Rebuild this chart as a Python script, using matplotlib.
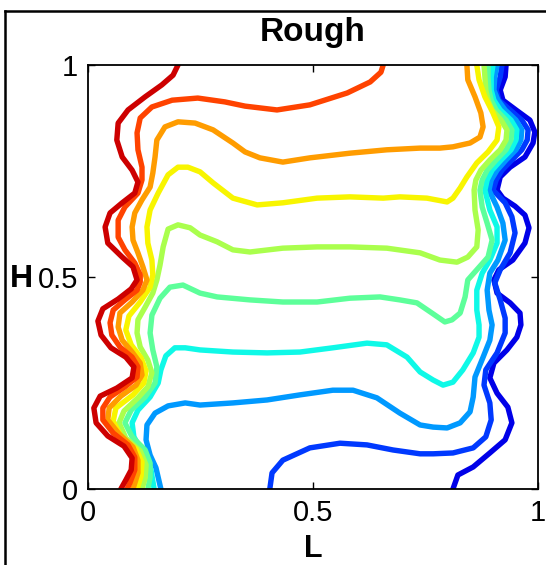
import matplotlib
matplotlib.use('Agg')
import matplotlib.pyplot as plt
import numpy as np
from matplotlib.lines import Line2D

# isotherm lines, coldest (right wall) to hottest (left wall)
dkblue_x = [0.929, 0.927, 0.916, 0.922, 0.951, 0.982, 0.993, 0.989, 0.971, 0.938, 0.916, 0.909,
            0.922, 0.949, 0.971, 0.980, 0.971, 0.944, 0.913, 0.902, 0.909, 0.938, 0.960, 0.962,
            0.953, 0.931, 0.902, 0.893, 0.909, 0.933, 0.942, 0.927, 0.893, 0.856, 0.822, 0.811]
dkblue_y = [1.0, 0.972, 0.941, 0.917, 0.894, 0.870, 0.842, 0.816, 0.783, 0.759, 0.736, 0.705,
            0.686, 0.667, 0.646, 0.616, 0.580, 0.540, 0.517, 0.493, 0.462, 0.439, 0.415, 0.387,
            0.358, 0.328, 0.297, 0.262, 0.226, 0.193, 0.156, 0.116, 0.085, 0.052, 0.033, 0.0]

blue_x = [0.920, 0.916, 0.907, 0.913, 0.938, 0.964, 0.978, 0.976, 0.964, 0.942, 0.920, 0.907,
          0.900, 0.927, 0.942, 0.949, 0.938, 0.916, 0.904, 0.916, 0.927, 0.927, 0.909, 0.884,
          0.880, 0.893, 0.896, 0.884, 0.856, 0.811, 0.767, 0.738, 0.678, 0.620, 0.560, 0.493,
          0.433, 0.409, 0.404]
blue_y = [1.0, 0.972, 0.941, 0.917, 0.894, 0.870, 0.847, 0.823, 0.800, 0.776, 0.752, 0.729,
          0.705, 0.675, 0.642, 0.604, 0.557, 0.517, 0.486, 0.446, 0.403, 0.368, 0.321, 0.281,
          0.245, 0.203, 0.163, 0.123, 0.097, 0.085, 0.083, 0.083, 0.092, 0.104, 0.108, 0.097,
          0.068, 0.038, 0.0]

ltblue_x = [0.909, 0.904, 0.902, 0.911, 0.927, 0.951, 0.964, 0.962, 0.951, 0.929, 0.909, 0.896,
            0.891, 0.909, 0.922, 0.927, 0.911, 0.893, 0.887, 0.891, 0.898, 0.893, 0.878, 0.860,
            0.856, 0.849, 0.827, 0.798, 0.767, 0.738, 0.693, 0.642, 0.589, 0.544, 0.471, 0.398,
            0.322, 0.249, 0.216, 0.178, 0.149, 0.131, 0.129, 0.138, 0.151, 0.162]
ltblue_y = [1.0, 0.972, 0.941, 0.917, 0.894, 0.870, 0.847, 0.823, 0.800, 0.776, 0.752, 0.729,
            0.705, 0.665, 0.627, 0.587, 0.540, 0.509, 0.469, 0.422, 0.387, 0.351, 0.311, 0.264,
            0.217, 0.182, 0.156, 0.144, 0.146, 0.151, 0.179, 0.215, 0.233, 0.233, 0.222, 0.210,
            0.203, 0.198, 0.203, 0.196, 0.179, 0.151, 0.116, 0.080, 0.050, 0.0]

cyan_x = [0.900, 0.896, 0.896, 0.902, 0.916, 0.940, 0.953, 0.951, 0.940, 0.918, 0.898, 0.887,
          0.882, 0.893, 0.909, 0.909, 0.893, 0.876, 0.864, 0.864, 0.869, 0.869, 0.856, 0.833,
          0.811, 0.789, 0.767, 0.738, 0.709, 0.664, 0.620, 0.544, 0.471, 0.398, 0.322, 0.249,
          0.216, 0.193, 0.173, 0.162, 0.156, 0.138, 0.111, 0.098, 0.102, 0.122, 0.140, 0.147]
cyan_y = [1.0, 0.972, 0.941, 0.917, 0.894, 0.870, 0.847, 0.823, 0.800, 0.776, 0.752, 0.729,
          0.705, 0.658, 0.618, 0.580, 0.540, 0.509, 0.469, 0.422, 0.387, 0.358, 0.321, 0.281,
          0.252, 0.245, 0.257, 0.276, 0.311, 0.340, 0.344, 0.333, 0.323, 0.321, 0.323, 0.328,
          0.333, 0.333, 0.314, 0.281, 0.250, 0.217, 0.186, 0.156, 0.123, 0.085, 0.045, 0.0]

green_x = [0.889, 0.889, 0.891, 0.896, 0.907, 0.929, 0.942, 0.940, 0.929, 0.907, 0.887, 0.876,
           0.871, 0.876, 0.887, 0.898, 0.889, 0.864, 0.844, 0.838, 0.827, 0.809, 0.793, 0.767,
           0.731, 0.693, 0.649, 0.582, 0.509, 0.433, 0.360, 0.287, 0.249, 0.211, 0.182, 0.160,
           0.142, 0.138, 0.144, 0.153, 0.149, 0.127, 0.096, 0.082, 0.098, 0.127, 0.138, 0.138,
           0.133]
green_y = [1.0, 0.972, 0.941, 0.917, 0.894, 0.870, 0.847, 0.823, 0.800, 0.776, 0.752, 0.729,
           0.705, 0.665, 0.627, 0.587, 0.547, 0.517, 0.493, 0.453, 0.415, 0.399, 0.394, 0.413,
           0.439, 0.446, 0.453, 0.450, 0.441, 0.441, 0.446, 0.453, 0.462, 0.481, 0.476, 0.450,
           0.410, 0.368, 0.328, 0.288, 0.250, 0.217, 0.186, 0.156, 0.123, 0.092, 0.061, 0.028,
           0.0]

ygreen_x = [0.880, 0.882, 0.884, 0.889, 0.898, 0.918, 0.931, 0.929, 0.916, 0.893, 0.873, 0.862,
            0.858, 0.860, 0.867, 0.864, 0.844, 0.820, 0.782, 0.738, 0.664, 0.582, 0.509, 0.433,
            0.360, 0.322, 0.287, 0.249, 0.227, 0.200, 0.178, 0.167, 0.160, 0.153, 0.144, 0.127,
            0.111, 0.109, 0.116, 0.133, 0.142, 0.133, 0.111, 0.080, 0.069, 0.084, 0.116, 0.129,
            0.127, 0.120]
ygreen_y = [1.0, 0.972, 0.941, 0.917, 0.894, 0.870, 0.847, 0.823, 0.800, 0.776, 0.752, 0.729,
            0.705, 0.658, 0.611, 0.571, 0.547, 0.535, 0.540, 0.557, 0.568, 0.571, 0.571, 0.568,
            0.559, 0.564, 0.583, 0.599, 0.616, 0.623, 0.613, 0.571, 0.528, 0.493, 0.462, 0.429,
            0.399, 0.368, 0.335, 0.304, 0.274, 0.241, 0.215, 0.184, 0.156, 0.120, 0.090, 0.057,
            0.026, 0.0]

yellow_x = [0.864, 0.869, 0.882, 0.900, 0.913, 0.909, 0.889, 0.864, 0.842, 0.827, 0.811, 0.798,
            0.753, 0.693, 0.656, 0.582, 0.509, 0.433, 0.376, 0.322, 0.278, 0.249, 0.222, 0.200,
            0.178, 0.156, 0.138, 0.131, 0.133, 0.142, 0.144, 0.138, 0.116, 0.091, 0.084, 0.096,
            0.118, 0.129, 0.124, 0.100, 0.062, 0.056, 0.073, 0.107, 0.120, 0.118, 0.109]
yellow_y = [1.0, 0.965, 0.925, 0.887, 0.854, 0.823, 0.795, 0.769, 0.736, 0.710, 0.686, 0.677,
            0.686, 0.689, 0.686, 0.689, 0.686, 0.675, 0.670, 0.686, 0.722, 0.748, 0.759, 0.759,
            0.741, 0.698, 0.658, 0.618, 0.580, 0.540, 0.505, 0.476, 0.441, 0.408, 0.375, 0.340,
            0.309, 0.278, 0.250, 0.222, 0.191, 0.160, 0.125, 0.094, 0.064, 0.031, 0.0]

orange_x = [0.842, 0.844, 0.860, 0.873, 0.878, 0.871, 0.849, 0.811, 0.782, 0.738, 0.664, 0.582,
            0.493, 0.433, 0.382, 0.349, 0.322, 0.278, 0.238, 0.200, 0.171, 0.153, 0.149, 0.144,
            0.138, 0.120, 0.104, 0.098, 0.100, 0.111, 0.122, 0.131, 0.122, 0.098, 0.071, 0.067,
            0.076, 0.098, 0.116, 0.120, 0.107, 0.073, 0.047, 0.044, 0.069, 0.100, 0.111, 0.111,
            0.100]
orange_y = [1.0, 0.965, 0.925, 0.887, 0.854, 0.830, 0.816, 0.807, 0.804, 0.804, 0.800, 0.792,
            0.781, 0.771, 0.781, 0.795, 0.816, 0.847, 0.863, 0.866, 0.854, 0.823, 0.783, 0.745,
            0.712, 0.682, 0.651, 0.618, 0.587, 0.557, 0.524, 0.493, 0.469, 0.441, 0.415, 0.382,
            0.351, 0.323, 0.297, 0.269, 0.245, 0.219, 0.191, 0.163, 0.130, 0.099, 0.068, 0.038,
            0.0]

red_x = [0.656, 0.651, 0.627, 0.576, 0.493, 0.420, 0.349, 0.304, 0.244, 0.187, 0.142, 0.116,
         0.109, 0.111, 0.120, 0.120, 0.111, 0.082, 0.067, 0.067, 0.082, 0.104, 0.116, 0.116,
         0.109, 0.082, 0.056, 0.049, 0.053, 0.071, 0.098, 0.111, 0.109, 0.082, 0.049, 0.033,
         0.033, 0.056, 0.089, 0.104, 0.104, 0.093, 0.087]
red_y = [1.0, 0.983, 0.960, 0.934, 0.906, 0.894, 0.903, 0.913, 0.922, 0.917, 0.901, 0.875,
         0.840, 0.800, 0.759, 0.729, 0.698, 0.665, 0.634, 0.594, 0.564, 0.533, 0.505, 0.488,
         0.469, 0.446, 0.422, 0.392, 0.363, 0.335, 0.311, 0.288, 0.264, 0.241, 0.217, 0.191,
         0.163, 0.132, 0.104, 0.075, 0.045, 0.014, 0.0]

dkred_x = [0.200, 0.189, 0.164, 0.127, 0.089, 0.067, 0.064, 0.076, 0.098, 0.111, 0.104, 0.076,
           0.049, 0.038, 0.044, 0.076, 0.100, 0.109, 0.096, 0.067, 0.033, 0.022, 0.029, 0.051,
           0.084, 0.102, 0.098, 0.064, 0.027, 0.013, 0.018, 0.044, 0.080, 0.098, 0.096, 0.084,
           0.073]
dkred_y = [1.0, 0.976, 0.953, 0.925, 0.894, 0.863, 0.823, 0.783, 0.752, 0.724, 0.698, 0.675,
           0.651, 0.618, 0.580, 0.547, 0.524, 0.493, 0.472, 0.448, 0.425, 0.396, 0.363, 0.333,
           0.311, 0.288, 0.262, 0.238, 0.219, 0.191, 0.156, 0.125, 0.101, 0.073, 0.045, 0.021,
           0.0]

lines = [(dkblue_x, dkblue_y), (blue_x, blue_y), (ltblue_x, ltblue_y), (cyan_x, cyan_y),
         (green_x, green_y), (ygreen_x, ygreen_y), (yellow_x, yellow_y),
         (orange_x, orange_y), (red_x, red_y), (dkred_x, dkred_y)]

plt.rcParams['font.family'] = ['Liberation Sans', 'DejaVu Sans']

fig = plt.figure(figsize=(5.46, 5.65), dpi=100)
ax = fig.add_axes([88/546, 76/565, 450/546, 424/565])

# jet colours, one per level
colors = plt.cm.jet(np.linspace(0.09, 0.93, len(lines)))
for (xs, ys), c in zip(lines, colors):
    ax.plot(xs, ys, color=c, linewidth=3.9,
            solid_joinstyle='round', solid_capstyle='round')

ax.set_xlim(0, 1)
ax.set_ylim(0, 1)
ax.set_xticks([0, 0.5, 1])
ax.set_xticklabels(['0', '0.5', '1'])
ax.set_yticks([0, 0.5, 1])
ax.set_yticklabels(['0', '0.5', '1'])
ax.tick_params(direction='in', length=5, width=1, top=True, right=True,
               labelsize=21, pad=7)
for s in ax.spines.values():
    s.set_linewidth(1.3)

ax.set_title('Rough', fontsize=24, fontweight='bold', pad=17)
ax.set_xlabel('L', fontsize=22, fontweight='bold')
ax.xaxis.set_label_coords(0.5, -0.106)
ax.set_ylabel('H', fontsize=23, fontweight='bold', rotation=0, va='center', ha='center')
ax.yaxis.set_label_coords(-0.147, 0.495)

# outer frame, cut off at the right and bottom
ytop = 1 - 11/565
xleft = 5/546
fig.add_artist(Line2D([xleft, xleft], [0, ytop], color='black', linewidth=1.8))
fig.add_artist(Line2D([xleft, 1], [ytop, ytop], color='black', linewidth=1.8))

fig.savefig('out.png', dpi=100)
